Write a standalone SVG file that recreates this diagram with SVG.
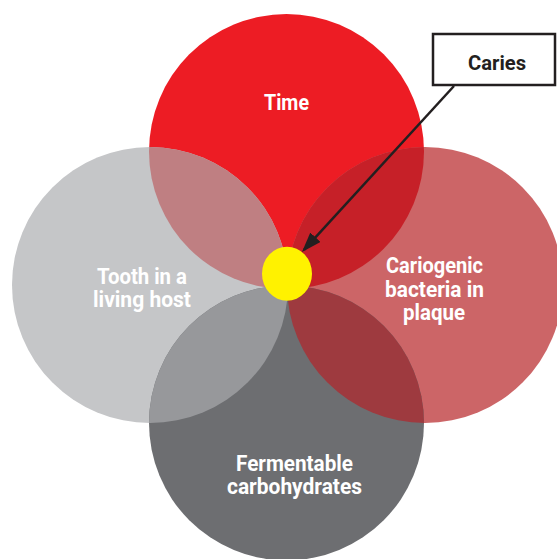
<svg xmlns="http://www.w3.org/2000/svg" width="557" height="559" viewBox="0 0 557 559">
<style>
.lbl{font-family:Roboto,"Liberation Sans",sans-serif;font-weight:700;font-size:22px;fill:#FFFFFF;text-anchor:middle}
.box{fill:#FFFFFF;stroke:#231F20;stroke-width:2.5}
.boxlbl{font-family:Roboto,"Liberation Sans",sans-serif;font-weight:700;font-size:21px;fill:#231F20;text-anchor:middle}
.conn{stroke:#231F20;stroke-width:2.5;fill:none}
</style>
<defs>
<clipPath id="cTop"><circle cx="286.5" cy="151.5" r="137.5"/></clipPath>
<clipPath id="cLeft"><circle cx="150" cy="285" r="138"/></clipPath>
<clipPath id="cRight"><circle cx="425" cy="285" r="138"/></clipPath>
<marker id="arr" viewBox="0 0 20 14" refX="17" refY="7" markerWidth="20" markerHeight="14" markerUnits="userSpaceOnUse" orient="auto">
<path d="M0,0 L20,7 L0,14 z" fill="#231F20"/>
</marker>
</defs>
<g id="time">
<circle cx="286.5" cy="151.5" r="137.5" fill="#ED1C24"/>
</g>
<g id="tooth">
<circle cx="150" cy="285" r="138" fill="#C5C6C8"/>
<circle cx="150" cy="285" r="138" fill="#BF7F82" clip-path="url(#cTop)"/>
</g>
<g id="bacteria">
<circle cx="425" cy="285" r="138" fill="#CC6567"/>
<circle cx="425" cy="285" r="138" fill="#C62028" clip-path="url(#cTop)"/>
</g>
<g id="carbs">
<circle cx="286.5" cy="423" r="137.5" fill="#6D6E71"/>
<circle cx="286.5" cy="423" r="137.5" fill="#97989B" clip-path="url(#cLeft)"/>
<circle cx="286.5" cy="423" r="137.5" fill="#9E3A3F" clip-path="url(#cRight)"/>
</g>
<g id="labels">
<text class="lbl" x="286.5" y="110" textLength="45" lengthAdjust="spacingAndGlyphs">Time</text>
<text class="lbl" x="142" y="284" textLength="90" lengthAdjust="spacingAndGlyphs">Tooth in a</text>
<text class="lbl" x="142" y="307" textLength="98" lengthAdjust="spacingAndGlyphs">living host</text>
<text class="lbl" x="434.5" y="273" textLength="97" lengthAdjust="spacingAndGlyphs">Cariogenic</text>
<text class="lbl" x="434.5" y="297" textLength="99" lengthAdjust="spacingAndGlyphs">bacteria in</text>
<text class="lbl" x="434" y="320" textLength="62" lengthAdjust="spacingAndGlyphs">plaque</text>
<text class="lbl" x="294.5" y="471" textLength="117" lengthAdjust="spacingAndGlyphs">Fermentable</text>
<text class="lbl" x="294.5" y="494" textLength="135" lengthAdjust="spacingAndGlyphs">carbohydrates</text>
</g>
<g id="caries-dot">
<ellipse cx="287" cy="273.7" rx="25" ry="27" fill="#FFF200"/>
</g>
<g id="caries">
<rect class="box" x="433" y="34" width="122" height="51"/>
<text class="boxlbl" x="497" y="70" textLength="58" lengthAdjust="spacingAndGlyphs">Caries</text>
</g>
<g id="connectors">
<line class="conn" x1="454" y1="86" x2="304" y2="249.8" marker-end="url(#arr)"/>
</g>
</svg>
